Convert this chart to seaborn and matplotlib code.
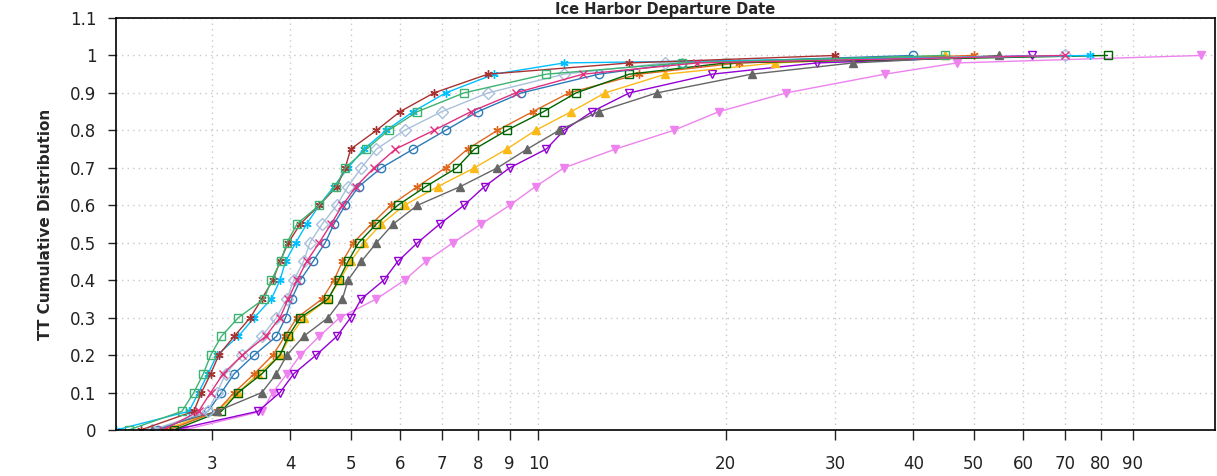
import numpy as np
import pandas as pd
import seaborn as sns
import matplotlib.pyplot as plt
from matplotlib.ticker import FixedLocator, FixedFormatter, NullLocator

cdf_levels = [0.0, 0.05, 0.10, 0.15, 0.20, 0.25, 0.30, 0.35, 0.40, 0.45, 0.50,
              0.55, 0.60, 0.65, 0.70, 0.75, 0.80, 0.85, 0.90, 0.95, 0.98, 1.0]

# travel time (days) for each series at those levels
tt_green = [2.2, 2.68, 2.80, 2.90, 2.98, 3.1, 3.3, 3.63, 3.73, 3.86, 3.95,
            4.1, 4.45, 4.73, 4.9, 5.3, 5.75, 6.4, 7.6, 10.3, 17, 45]
tt_brown = [2.3, 2.8, 2.88, 2.98, 3.07, 3.25, 3.45, 3.6, 3.75, 3.85, 3.97,
            4.15, 4.45, 4.75, 4.9, 5.0, 5.5, 6.0, 6.8, 8.3, 14, 30]
tt_cyan = [2.1, 2.75, 2.85, 2.95, 3.05, 3.3, 3.5, 3.73, 3.85, 3.93, 4.08,
           4.25, 4.45, 4.7, 4.95, 5.25, 5.7, 6.3, 7.1, 8.5, 11, 77]
tt_lightblue = [2.4, 2.95, 3.05, 3.15, 3.35, 3.6, 3.8, 3.95, 4.05, 4.2, 4.3,
                4.5, 4.75, 4.95, 5.2, 5.5, 6.1, 7.0, 8.3, 11, 16, 70]
tt_blue = [2.45, 2.95, 3.1, 3.25, 3.5, 3.8, 3.93, 4.02, 4.15, 4.35, 4.55,
           4.7, 4.9, 5.15, 5.6, 6.3, 7.1, 8.0, 9.4, 12.5, 17, 40]
tt_pink = [2.5, 2.85, 2.98, 3.12, 3.35, 3.65, 3.85, 3.97, 4.1, 4.25, 4.45,
           4.65, 4.85, 5.1, 5.45, 5.9, 6.8, 7.8, 9.2, 11.8, 18, 70]
tt_darkgreen = [2.6, 3.1, 3.3, 3.6, 3.85, 3.97, 4.15, 4.6, 4.78, 4.95, 5.15,
                5.5, 5.95, 6.6, 7.4, 7.9, 8.9, 10.2, 11.5, 14, 20, 82]
tt_orange = [2.55, 3.05, 3.25, 3.5, 3.75, 3.92, 4.1, 4.5, 4.7, 4.85, 5.05,
             5.4, 5.8, 6.4, 7.1, 7.7, 8.6, 9.8, 11.2, 14.5, 21, 50]
tt_gold = [2.5, 3.05, 3.3, 3.55, 3.85, 4.0, 4.2, 4.6, 4.8, 5.0, 5.25,
           5.6, 6.1, 6.9, 7.9, 8.9, 9.9, 11.3, 12.8, 16, 24, 45]
tt_gray = [2.4, 3.05, 3.6, 3.8, 3.95, 4.2, 4.6, 4.85, 4.95, 5.2, 5.5,
           5.85, 6.4, 7.5, 8.6, 9.6, 10.8, 12.5, 15.5, 22, 32, 55]
tt_darkviolet = [2.6, 3.55, 3.85, 4.05, 4.4, 4.75, 5.0, 5.2, 5.65, 5.95, 6.4,
                 6.95, 7.6, 8.2, 9.0, 10.3, 11.0, 12.2, 14, 19, 28, 62]
tt_violet = [2.7, 3.6, 3.75, 3.95, 4.15, 4.45, 4.8, 5.5, 6.1, 6.6, 7.3,
             8.1, 9.0, 9.9, 11.0, 13.3, 16.5, 19.5, 25, 36, 47, 116]

x_ticks = [3, 4, 5, 6, 7, 8, 9, 10, 20, 30, 40, 50, 60, 70, 80, 90]
y_ticks = [0, 0.1, 0.2, 0.3, 0.4, 0.5, 0.6, 0.7, 0.8, 0.9, 1.0, 1.1]
y_labels = ['0', '0.1', '0.2', '0.3', '0.4', '0.5', '0.6', '0.7', '0.8', '0.9', '1', '1.1']

# drawing order, colour, marker, filled?
series = [
    ('violet', tt_violet, '#ee82ee', 'v', True),
    ('darkviolet', tt_darkviolet, '#9400d3', 'v', False),
    ('gold', tt_gold, '#fbb917', '^', True),
    ('orange', tt_orange, '#e0681e', (6, 2, 0), False),
    ('darkgreen', tt_darkgreen, '#006400', 's', False),
    ('gray', tt_gray, '#666666', '^', True),
    ('blue', tt_blue, '#2b7bba', 'o', False),
    ('lightblue', tt_lightblue, '#a8c0dc', 'D', False),
    ('cyan', tt_cyan, '#00bfff', (6, 2, 0), False),
    ('brown', tt_brown, '#a83232', (6, 2, 0), False),
    ('green', tt_green, '#3cb371', 's', False),
    ('pink', tt_pink, '#e0307f', 'x', False),
]

sns.set_style('white')
plt.rcParams['font.family'] = ['DejaVu Sans']

fig = plt.figure(figsize=(12.17, 4.76), dpi=100)
ax = fig.add_axes([116 / 1217, 46 / 476, 1099 / 1217, 412 / 476])

for name, tt, color, marker, filled in series:
    df = pd.DataFrame({'tt': tt, 'cdf': cdf_levels})
    sns.lineplot(data=df, x='tt', y='cdf', ax=ax, color=color, lw=1,
                 marker=marker, markersize=6,
                 markerfacecolor=color if filled else 'none',
                 markeredgecolor=color, markeredgewidth=1,
                 sort=False, estimator=None, legend=False)

ax.set_xscale('log')
ax.set_xlim(2.1, 122)
ax.set_ylim(0, 1.1)
ax.xaxis.set_major_locator(FixedLocator(x_ticks))
ax.xaxis.set_major_formatter(FixedFormatter([str(t) for t in x_ticks]))
ax.xaxis.set_minor_locator(NullLocator())
ax.yaxis.set_major_locator(FixedLocator(y_ticks))
ax.yaxis.set_major_formatter(FixedFormatter(y_labels))

ax.grid(True, color='#c8c8c8', linestyle=(0, (1, 3)), lw=1)
for s in ax.spines.values():
    s.set_color('black')
    s.set_linewidth(1.2)
ax.tick_params(axis='x', direction='out', length=7, width=1, pad=11,
               labelsize=12, colors='#222222', bottom=True)
ax.tick_params(axis='y', direction='out', length=6, width=1, pad=8,
               labelsize=12, colors='#222222', left=True)

ax.set_xlabel('')
ax.set_ylabel('TT Cumulative Distribution', fontsize=11, fontweight='bold', labelpad=12)
fig.text((116 + 1215) / 2 / 1217, 1 - 14 / 476, 'Ice Harbor Departure Date',
         ha='center', va='baseline', fontsize=10.5, fontweight='bold')

fig.savefig('out.png', dpi=100)
